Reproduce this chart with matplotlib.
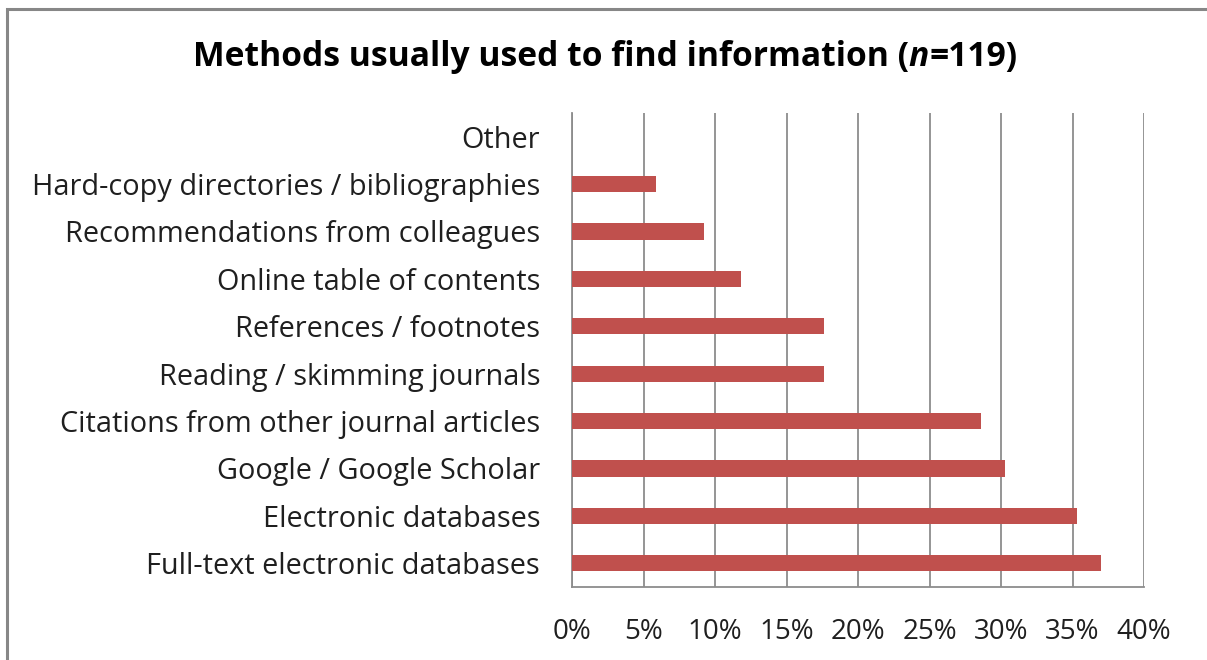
import matplotlib
matplotlib.use("Agg")
import matplotlib.pyplot as plt
from matplotlib.patches import Rectangle

# survey answers, bottom to top as drawn
methods = [
    "Full-text electronic databases",
    "Electronic databases",
    "Google / Google Scholar",
    "Citations from other journal articles",
    "Reading / skimming journals",
    "References / footnotes",
    "Online table of contents",
    "Recommendations from colleagues",
    "Hard-copy directories / bibliographies",
    "Other",
]
share_pct = [37.0, 35.3, 30.3, 28.6, 17.6, 17.6, 11.8, 9.2, 5.9, 0.0]
xticks_pct = [0, 5, 10, 15, 20, 25, 30, 35, 40]

plt.rcParams["font.family"] = ["Open Sans", "DejaVu Sans"]

bar_color = "#C0504D"
grid_color = "#8C8C8C"
text_color = "#1F1F1F"

fig = plt.figure(figsize=(12.07, 6.6), dpi=100)
fig.patch.set_facecolor("white")

# chart frame (only left and top edges fall inside the image)
fig.patches.append(Rectangle((6.5 / 1207, -0.1), 1.2, 1.1 - 8.5 / 660,
                             transform=fig.transFigure, fill=False,
                             edgecolor="#878787", linewidth=2.2))

ax = fig.add_axes([572 / 1207, 1 - 587 / 660, (1144 - 572) / 1207, (587 - 113) / 660])
ypos = list(range(len(methods)))
ax.barh(ypos, share_pct, height=0.34, color=bar_color, zorder=3)

ax.set_xlim(0, 40)
ax.set_ylim(-0.5, len(methods) - 0.5)
ax.set_xticks(xticks_pct)
ax.set_xticklabels([f"{v}%" for v in xticks_pct])
ax.set_yticks(ypos)
ax.set_yticklabels(methods)
ax.tick_params(axis="x", length=0, pad=22, labelsize=20, labelcolor=text_color)
ax.tick_params(axis="y", length=0, pad=23, labelsize=20.8, labelcolor=text_color)

ax.grid(axis="x", color=grid_color, linewidth=1.3, zorder=0)
for side in ["top", "right"]:
    ax.spines[side].set_visible(False)
for side in ["left", "bottom"]:
    ax.spines[side].set_color(grid_color)
    ax.spines[side].set_linewidth(1.3)

# title with italic n, pieces laid out side by side
parts = [("Methods usually used to find information (", "normal"),
         ("n", "italic"),
         ("=119)", "normal")]
renderer = fig.canvas.get_renderer()
texts = []
for s, style in parts:
    t = fig.text(0, 1 - 57 / 660, s, fontsize=24.2, fontweight="bold",
                 fontstyle=style, va="center", ha="left", color="black")
    texts.append(t)
widths = [t.get_window_extent(renderer).width for t in texts]
x0 = 605 - sum(widths) / 2
for t, w in zip(texts, widths):
    t.set_x(x0 / 1207)
    x0 += w

fig.savefig("out.png", dpi=100, facecolor="white")
